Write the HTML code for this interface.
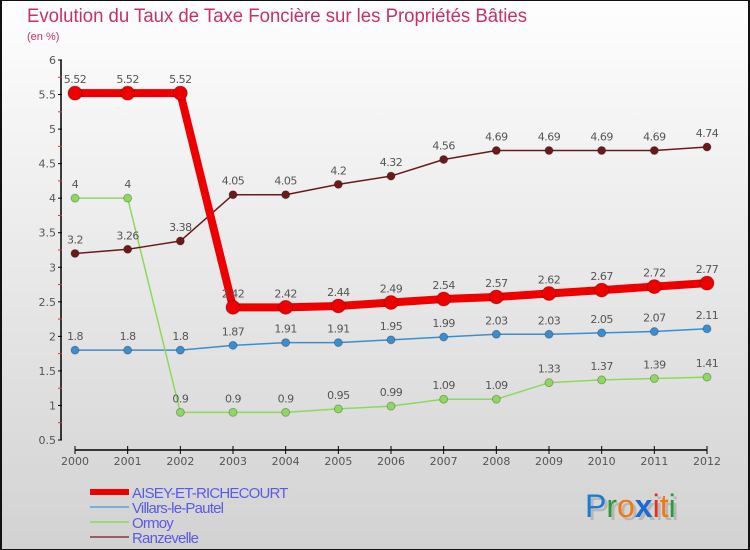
<!DOCTYPE html>
<html><head><meta charset="utf-8"><style>
html,body{margin:0;padding:0}
body{width:750px;height:550px;overflow:hidden;font-family:"DejaVu Sans","Liberation Sans",sans-serif}
#wrap{position:absolute;left:0;top:0;width:746px;height:548px;border:1px solid #111;border-left:2px solid #111;border-right:2px solid #111;background:linear-gradient(#fefefe,#d2d2d2)}
</style></head><body>
<div id="wrap"></div>
<svg id="c" width="750" height="550" style="position:absolute;left:0;top:0">
<text x="27" y="22" font-size="19" fill="#c8306a" font-family="Liberation Sans, sans-serif" textLength="500" lengthAdjust="spacingAndGlyphs">Evolution du Taux de Taxe Foncière sur les Propriétés Bâties</text>
<text x="27" y="40" font-size="11" fill="#c8306a" font-family="Liberation Sans, sans-serif">(en %)</text>
<g id="axes"></g><g id="series"></g><g id="legend"></g>
<g font-family="Liberation Sans, sans-serif" font-size="32">
<text x="588" y="520" fill="#999" opacity="0.5">Pro<tspan font-weight="bold">x</tspan>iti</text>
<text x="585" y="517"><tspan fill="#1a7bd0">P</tspan><tspan fill="#2a9a3a">r</tspan><tspan fill="#f07a10">o</tspan><tspan fill="#1a6cd0" font-weight="bold">x</tspan><tspan fill="#e03020">i</tspan><tspan fill="#f07a10">t</tspan><tspan fill="#2a9a3a">i</tspan></text>
</g>
</svg>
<script>
const years=[2000,2001,2002,2003,2004,2005,2006,2007,2008,2009,2010,2011,2012];
const aisey=[5.52,5.52,5.52,2.42,2.42,2.44,2.49,2.54,2.57,2.62,2.67,2.72,2.77];
const villars=[1.8,1.8,1.8,1.87,1.91,1.91,1.95,1.99,2.03,2.03,2.05,2.07,2.11];
const ormoy=[4,4,0.9,0.9,0.9,0.95,0.99,1.09,1.09,1.33,1.37,1.39,1.41];
const ranz=[3.2,3.26,3.38,4.05,4.05,4.2,4.32,4.56,4.69,4.69,4.69,4.69,4.74];
const yTicks=[0.5,1,1.5,2,2.5,3,3.5,4,4.5,5,5.5,6];
const NS="http://www.w3.org/2000/svg";
const X=i=>75+i*(707-75)/(years.length-1);
const Y=v=>60+(6-v)*(380/5.5);
function mk(t,a,p){const e=document.createElementNS(NS,t);for(const k in a)e.setAttribute(k,a[k]);p.appendChild(e);return e;}
const ax=document.getElementById('axes');
const yl=mk('line',{x1:61,y1:60,x2:61,y2:440,stroke:'#000','stroke-width':1.5},ax);


yTicks.forEach(v=>{
 mk('line',{x1:58,x2:62,y1:Y(v),y2:Y(v),stroke:'#000'},ax);
 if(v<6) mk('line',{x1:58,x2:62,y1:Y(v+0.25),y2:Y(v+0.25),stroke:'#e03030'},ax);
 const t=mk('text',{x:56,y:Y(v)+4,'text-anchor':'end','font-size':11,fill:'#555'},ax);t.textContent=String(v);
 
 
});
const xl=mk('line',{x1:75,y1:450,x2:707,y2:450,stroke:'#000','stroke-width':1.5},ax);


years.forEach((y,i)=>{
 mk('line',{x1:X(i),x2:X(i),y1:446,y2:454,stroke:'#000'},ax);
 const t=mk('text',{x:X(i),y:465,'text-anchor':'middle','font-size':11,fill:'#555'},ax);t.textContent=y;
 
 
});
const sg=document.getElementById('series');
function series(vals,color,w,r,name){
 const g=mk('g',{},sg);
 
 
 mk('polyline',{points:vals.map((v,i)=>X(i)+','+Y(v)).join(' '),fill:'none',stroke:color,'stroke-width':w,'stroke-linejoin':'round'},g);
 vals.forEach((v,i)=>{
  const c=mk('circle',{cx:X(i),cy:Y(v),r:r,fill:color,stroke:'rgba(0,0,0,0.25)','stroke-width':1},g);
  
  
  const t=mk('text',{x:X(i),y:Y(v)-10,'text-anchor':'middle','font-size':11,fill:'#555','letter-spacing':'-0.5'},g);t.textContent=String(v);
  
  
 });
}
series(villars,'#3a8ed0',1.5,4,'villars-series');
series(ormoy,'#8ed860',1.5,4,'ormoy-series');
series(ranz,'#6a1a1a',1.5,4,'ranzevelle-series');
series(aisey,'#ee0000',8,7,'aisey-series');
const lg=document.getElementById('legend');
const items=[['AISEY-ET-RICHECOURT','#ee0000',6],['Villars-le-Pautel','#7aaed8',2],['Ormoy','#9ed880',2],['Ranzevelle','#9a6060',2]];
items.forEach((it,k)=>{
 const y=492+k*15;
 const g=mk('g',{},lg);
 
 
 mk('line',{x1:90,x2:129,y1:y,y2:y,stroke:it[1],'stroke-width':it[2]},g);
 const t=mk('text',{x:132,y:y+6,'font-size':15,fill:'#5a5ae8','font-family':'Liberation Sans, sans-serif','letter-spacing':'-0.8'},g);t.textContent=it[0];
});
</script>
</body></html>
